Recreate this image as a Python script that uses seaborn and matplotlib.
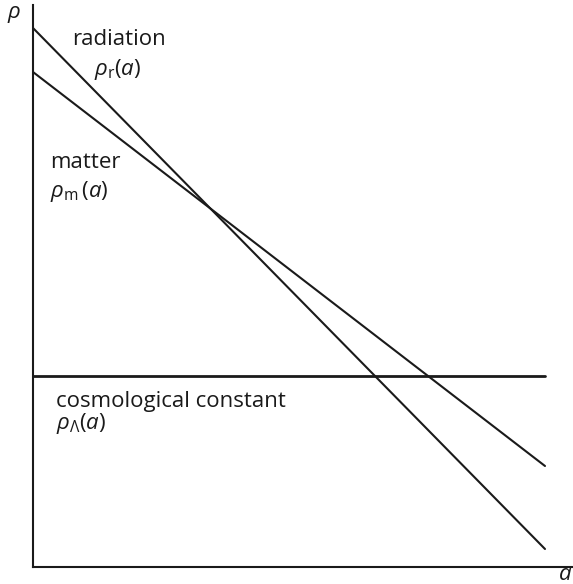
import matplotlib
matplotlib.use("Agg")
import matplotlib.pyplot as plt
import seaborn as sns
import pandas as pd

# Energy densities on log-log axes (arbitrary units): endpoints of each component
log_a = [0, 512]
rho_radiation = [539, 18]
rho_matter = [495, 101]
rho_lambda = [191, 191]

components = ["radiation", "matter", "cosmological constant"]
series = [rho_radiation, rho_matter, rho_lambda]
widths = [1.5, 1.5, 2.0]

sns.set_theme(style="white")
plt.rcParams["font.family"] = ["Open Sans", "DejaVu Sans"]
plt.rcParams["mathtext.fontset"] = "custom"
plt.rcParams["mathtext.rm"] = "Open Sans"
plt.rcParams["mathtext.it"] = "Open Sans:italic"

fig = plt.figure(figsize=(5.73, 5.84), dpi=100)
ax = fig.add_axes([33 / 573, 17 / 584, 540 / 573, 562 / 584])

for name, rho, lw in zip(components, series, widths):
    df = pd.DataFrame({"log_a": log_a, "log_rho": rho})
    sns.lineplot(data=df, x="log_a", y="log_rho", color="#1a1a1a",
                 linewidth=lw, ax=ax, legend=False)

ax.set_xlim(0, 540)
ax.set_ylim(0, 562)
ax.set_xticks([])
ax.set_yticks([])
ax.set_xlabel("")
ax.set_ylabel("")
for side in ("top", "right"):
    ax.spines[side].set_visible(False)
for side in ("left", "bottom"):
    ax.spines[side].set_color("#1a1a1a")
    ax.spines[side].set_linewidth(1.5)

fs = 16
tc = "#1a1a1a"


def put(x, y, s, va="baseline"):
    fig.text(x / 573, 1 - y / 584, s, fontsize=fs, ha="left", va=va, color=tc)


put(7, 18, r"$\rho$")
put(558, 580, r"$a$")

put(72, 45, "radiation")
put(94, 75, r"$\rho_{\mathrm{r}}(a)$")
put(50, 168, "matter")
put(50, 197, r"$\rho_{\mathrm{m}}\,(a)$")
put(56, 407, "cosmological constant")
put(56, 429, r"$\rho_{\Lambda}(a)$")

fig.savefig("out.png", dpi=100)
